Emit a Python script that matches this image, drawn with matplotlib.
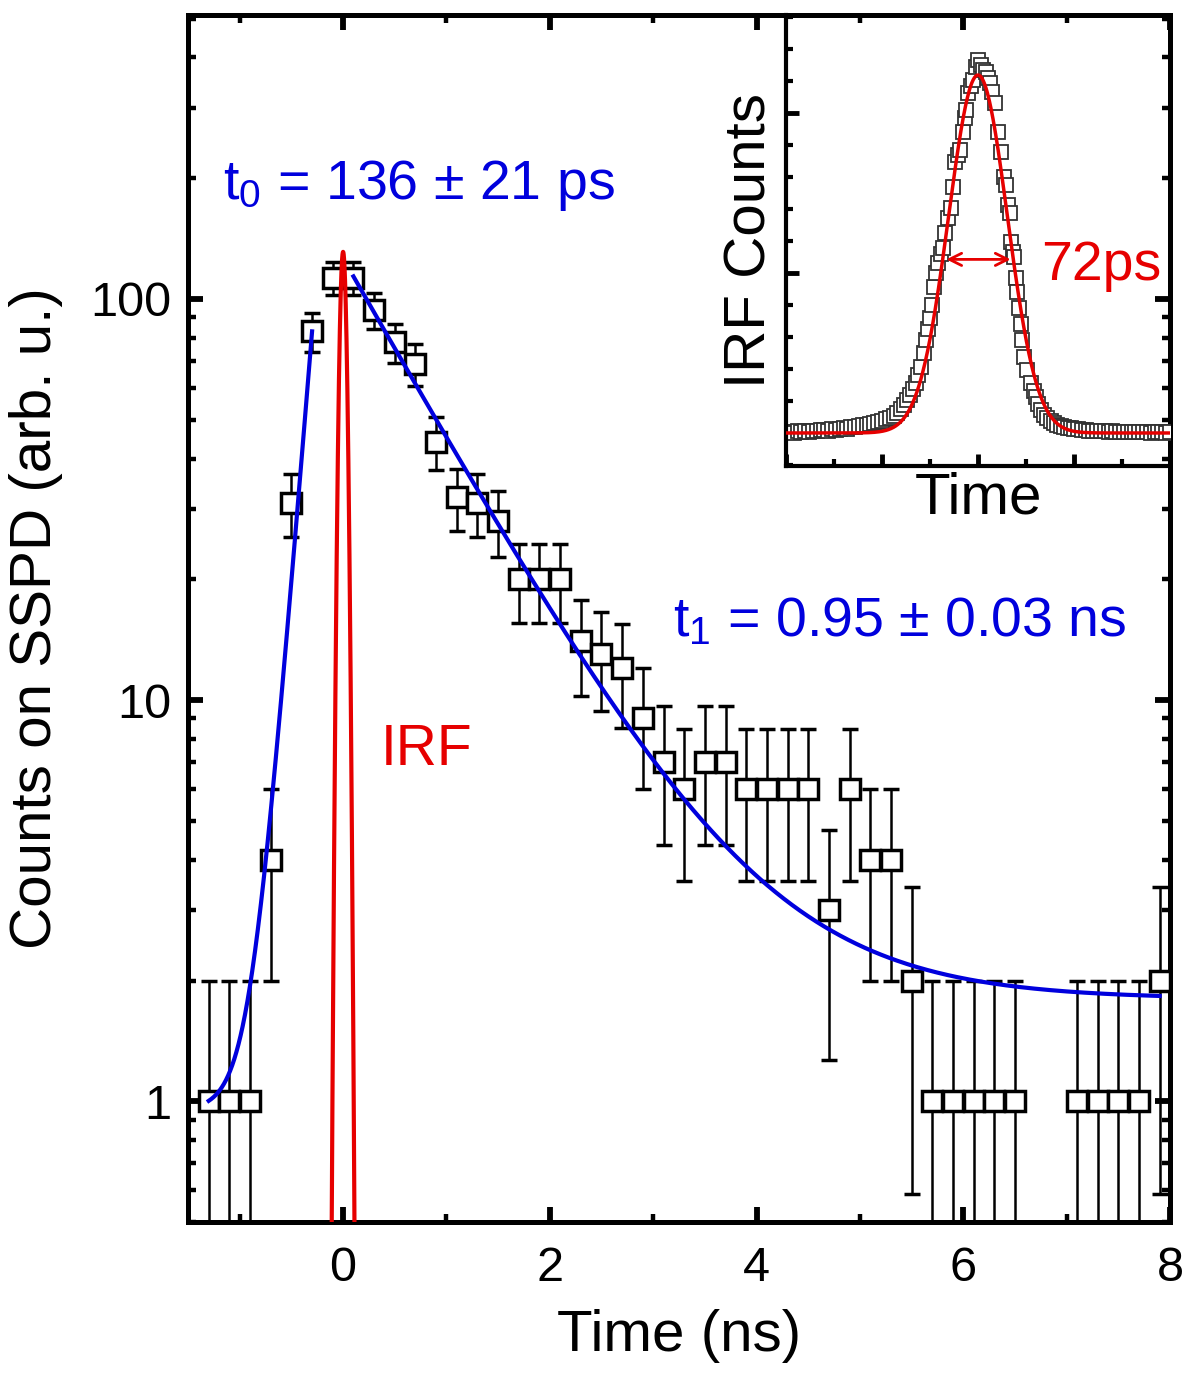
import numpy as np
import matplotlib
matplotlib.use("Agg")
import matplotlib.pyplot as plt
from matplotlib.ticker import MultipleLocator, LogLocator, NullFormatter

plt.rcParams['font.family'] = ['Liberation Sans', 'DejaVu Sans']
plt.rcParams['mathtext.fontset'] = 'custom'
plt.rcParams['mathtext.rm'] = 'Liberation Sans'
plt.rcParams['mathtext.it'] = 'Liberation Sans'

# main decay histogram (time in ns, counts)
time_ns = [-1.3, -1.1, -0.9, -0.7, -0.5, -0.3, -0.1, 0.1, 0.3, 0.5,
           0.7, 0.9, 1.1, 1.3, 1.5, 1.7, 1.9, 2.1, 2.3, 2.5,
           2.7, 2.9, 3.1, 3.3, 3.5, 3.7, 3.9, 4.1, 4.3, 4.5,
           4.7, 4.9, 5.1, 5.3, 5.5, 5.7, 5.9, 6.1, 6.3, 6.5,
           7.1, 7.3, 7.5, 7.7, 7.9]
counts = [1, 1, 1, 4, 31, 83, 113, 113, 94, 78,
          69, 44, 32, 31, 28, 20, 20, 20, 14, 13,
          12, 9, 7, 6, 7, 7, 6, 6, 6, 6,
          3, 6, 4, 4, 2, 1, 1, 1, 1, 1,
          1, 1, 1, 1, 2]

# fit parameters
tau0 = 0.136   # rise, ns
tau1 = 0.95    # decay, ns
rise_amp, rise_bg, rise_end = 82.05, 0.95, -0.3
decay_amp, decay_bg, decay_start = 112.0, 1.8, 0.1
irf_peak, irf_sigma = 131.0, 0.033

# inset IRF data (time in ps, counts)
irf_t = [-200, -196, -192, -188, -184, -180, -176, -172, -168, -164,
         -160, -156, -152, -148, -144, -140, -136, -132, -128, -124,
         -120, -116, -112, -108, -104, -100, -96, -92, -88, -84,
         -80, -77, -74, -71, -68, -65, -62, -59, -56, -54,
         -52, -50, -48, -46, -44, -42, -39, -36, -34, -31,
         -28, -26, -24, -21, -19, -16, -14, -12, -10, -7,
         -5, -2, 0, 3, 5, 8, 10, 12, 15, 18,
         21, 24, 27, 29, 31, 33, 34, 36, 38, 40,
         41, 43, 45, 46, 48, 51, 55, 58, 60, 63,
         66, 69, 72, 76, 79, 82, 86, 90, 94, 97,
         100, 104, 108, 112, 116, 120, 124, 128, 132, 136,
         140, 144, 148, 152, 156, 160, 164, 168, 172, 176,
         180, 184, 188, 192, 196, 200]
irf_counts = [5, 8, 3, 10, 6, 12, 8, 14, 10, 16,
              18, 15, 22, 20, 26, 30, 28, 37, 40, 45,
              48, 52, 58, 62, 70, 76, 85, 95, 108, 125,
              150, 175, 206, 240, 275, 312, 360, 415, 500, 580,
              650, 720, 800, 915, 1000, 1060, 1120, 1156, 1250, 1344,
              1406, 1537, 1694, 1740, 1769, 1880, 1969, 2019, 2125, 2170,
              2206, 2290, 2331, 2300, 2270, 2256, 2220, 2188, 2130, 2062,
              1881, 1756, 1600, 1550, 1425, 1375, 1194, 1131, 1100, 969,
              881, 781, 680, 581, 475, 394, 312, 260, 225, 180,
              144, 115, 94, 72, 60, 50, 42, 36, 33, 31,
              26, 22, 20, 18, 15, 14, 12, 10, 12, 8,
              10, 7, 9, 6, 8, 5, 7, 4, 6, 5,
              3, 6, 4, 5, 3, 4]
irf_fit_peak, irf_fwhm = 2237.0, 72.0

blue = '#0000DD'
red = '#E60000'

fig = plt.figure(figsize=(12, 13.81), dpi=100)
ax_l, ax_b, ax_w, ax_h = 0.1567, 0.1151, 0.8183, 0.8740
ax = fig.add_axes([ax_l, ax_b, ax_w, ax_h])

c = np.array(counts, dtype=float)
err_hi = np.sqrt(c)
err_lo = np.minimum(np.sqrt(c), c * 0.999)
ax.errorbar(time_ns, c, yerr=[err_lo, err_hi], fmt='s', ms=14, mfc='white',
            mec='black', mew=2.5, ecolor='black', elinewidth=1.8,
            capsize=6, capthick=1.8, zorder=3)

t_rise = np.linspace(time_ns[0], rise_end, 300)
ax.plot(t_rise, rise_bg + rise_amp * np.exp((t_rise - rise_end) / tau0),
        color=blue, lw=3, zorder=4)
t_dec = np.linspace(decay_start, 7.9, 400)
ax.plot(t_dec, decay_bg + decay_amp * np.exp(-(t_dec - decay_start) / tau1),
        color=blue, lw=3, zorder=4)
t_irf = np.linspace(-0.2, 0.2, 801)
ax.plot(t_irf, irf_peak * np.exp(-t_irf**2 / (2 * irf_sigma**2)),
        color=red, lw=3, zorder=4)

ax.set_yscale('log')
ax.set_xlim(-1.5, 8.0)
ax.set_ylim(0.5, 510)
ax.xaxis.set_major_locator(MultipleLocator(2))
ax.xaxis.set_minor_locator(MultipleLocator(1))
ax.set_yticks([1, 10, 100])
ax.set_yticklabels(['1', '10', '100'])
ax.yaxis.set_minor_locator(LogLocator(subs=np.arange(2, 10)))
ax.yaxis.set_minor_formatter(NullFormatter())
ax.tick_params(which='both', direction='in', top=True, right=True,
               labelsize=35)
ax.tick_params(which='major', length=11, width=4.2)
ax.tick_params(which='minor', length=5.5, width=3.2)
ax.tick_params(axis='x', pad=17)
ax.tick_params(axis='y', pad=12)
for s in ax.spines.values():
    s.set_linewidth(3.6)

ax.set_xlabel('Time (ns)', fontsize=42)
ax.set_ylabel('Counts on SSPD (arb. u.)', fontsize=42)
ax.xaxis.set_label_coords(0.5, -0.072)
ax.yaxis.set_label_coords(-0.127, 0.5)

ax.text(-1.16, 177, r'$\mathregular{t_0}$ = 136 ± 21 ps', color=blue,
        fontsize=40, va='baseline')
ax.text(3.19, 14.4, r'$\mathregular{t_1}$ = 0.95 ± 0.03 ns', color=blue,
        fontsize=40, va='baseline')
ax.text(0.36, 6.9, 'IRF', color=red, fontsize=41, va='baseline')

# inset: instrument response function
in_l, in_b = 0.655, 0.6626
axin = fig.add_axes([in_l, in_b, ax_l + ax_w - in_l, ax_b + ax_h - in_b])
axin.set_facecolor('none')
axin.plot(irf_t, irf_counts, 's', ms=9.5, mfc='white', mec='#333333',
          mew=1.3, zorder=2)
sig_ps = irf_fwhm / (2 * np.sqrt(2 * np.log(2)))
tf = np.linspace(-200, 200, 600)
axin.plot(tf, irf_fit_peak * np.exp(-tf**2 / (2 * sig_ps**2)), color=red,
          lw=2.5, zorder=3)
half = irf_fit_peak / 2 * 0.97
axin.annotate('', xy=(-irf_fwhm / 2 + 3, half), xytext=(irf_fwhm / 2 - 2, half),
              arrowprops=dict(arrowstyle='<->', color=red, lw=2,
                              mutation_scale=22, shrinkA=0, shrinkB=0))
axin.text(66, 956, '72ps', color=red, fontsize=40, va='baseline')
axin.set_xlim(-200, 200)
axin.set_ylim(-206, 2612)
axin.xaxis.set_major_locator(MultipleLocator(100))
axin.xaxis.set_minor_locator(MultipleLocator(50))
axin.yaxis.set_major_locator(MultipleLocator(1000))
axin.yaxis.set_minor_locator(MultipleLocator(200))
axin.tick_params(which='both', direction='in', top=False, right=False,
                 labelleft=False, labelbottom=False)
axin.tick_params(which='major', length=9, width=3.5)
axin.tick_params(which='minor', length=5, width=3)
axin.spines['top'].set_visible(False)
axin.spines['right'].set_visible(False)
axin.spines['left'].set_linewidth(3)
axin.spines['bottom'].set_linewidth(3)
axin.set_xlabel('Time', fontsize=42, labelpad=4)
axin.set_ylabel('IRF Counts', fontsize=42, labelpad=6)

fig.savefig('out.png', dpi=100)
